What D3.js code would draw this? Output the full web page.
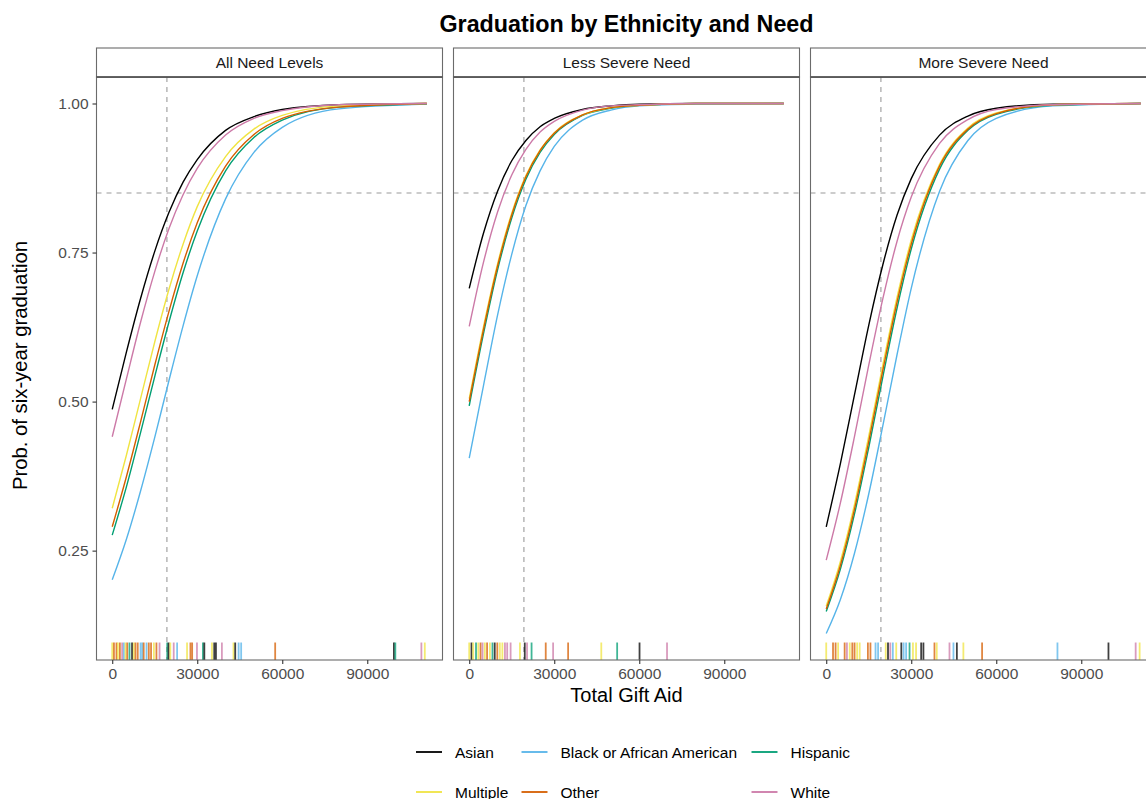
<!DOCTYPE html>
<html>
<head>
<meta charset="utf-8">
<script src="https://cdn.jsdelivr.net/npm/d3@7"></script>
<style>
  body { margin: 0; background: #ffffff; }
  svg { display: block; }
  text { font-family: "Liberation Sans", Arial, Helvetica, sans-serif; }
</style>
</head>
<body>
<svg id="chart" width="1146" height="799"></svg>
<script>
// ---- Data -------------------------------------------------------------
const ethnicities = ["Asian", "Black or African American", "Hispanic", "Multiple", "Other", "White"];
const ethnicityColors = ["#000000", "#56B4E9", "#009E73", "#F0E442", "#D55E00", "#CC79A7"];
const needLevels = ["All Need Levels", "Less Severe Need", "More Severe Need"];

// Total gift aid values at which the predicted probabilities are given
const aidGrid = [0, 5000, 10000, 15000, 20000, 25000, 30000, 40000, 50000, 60000, 80000, 111000];

// Predicted probability of six-year graduation, rows in ethnicity order
const probAllNeed = [
  [0.487, 0.583, 0.673, 0.752, 0.817, 0.868, 0.906, 0.955, 0.978, 0.990, 0.998, 1.000],
  [0.201, 0.269, 0.350, 0.440, 0.535, 0.627, 0.711, 0.840, 0.918, 0.960, 0.991, 0.999],
  [0.276, 0.357, 0.448, 0.542, 0.633, 0.716, 0.786, 0.887, 0.943, 0.972, 0.994, 0.999],
  [0.321, 0.410, 0.505, 0.600, 0.688, 0.764, 0.827, 0.911, 0.957, 0.980, 0.996, 1.000],
  [0.290, 0.374, 0.466, 0.561, 0.651, 0.732, 0.800, 0.895, 0.948, 0.975, 0.994, 1.000],
  [0.441, 0.538, 0.633, 0.718, 0.790, 0.847, 0.891, 0.947, 0.975, 0.988, 0.998, 1.000]
];
const probLessSevere = [
  [0.690, 0.782, 0.853, 0.904, 0.938, 0.961, 0.975, 0.990, 0.996, 0.999, 1.000, 1.000],
  [0.405, 0.526, 0.645, 0.747, 0.829, 0.887, 0.928, 0.972, 0.989, 0.996, 0.999, 1.000],
  [0.493, 0.613, 0.721, 0.808, 0.873, 0.918, 0.948, 0.980, 0.992, 0.997, 1.000, 1.000],
  [0.505, 0.625, 0.731, 0.816, 0.879, 0.922, 0.951, 0.981, 0.993, 0.997, 1.000, 1.000],
  [0.500, 0.620, 0.727, 0.813, 0.877, 0.921, 0.950, 0.981, 0.993, 0.997, 1.000, 1.000],
  [0.626, 0.733, 0.818, 0.880, 0.923, 0.952, 0.970, 0.989, 0.996, 0.998, 1.000, 1.000]
];
const probMoreSevere = [
  [0.290, 0.396, 0.512, 0.628, 0.730, 0.813, 0.874, 0.947, 0.979, 0.992, 0.999, 1.000],
  [0.111, 0.168, 0.246, 0.345, 0.460, 0.579, 0.690, 0.853, 0.938, 0.975, 0.996, 1.000],
  [0.148, 0.219, 0.312, 0.423, 0.542, 0.657, 0.756, 0.890, 0.955, 0.982, 0.997, 1.000],
  [0.157, 0.232, 0.328, 0.442, 0.562, 0.675, 0.771, 0.898, 0.959, 0.984, 0.998, 1.000],
  [0.152, 0.225, 0.320, 0.433, 0.553, 0.667, 0.764, 0.895, 0.957, 0.983, 0.998, 1.000],
  [0.234, 0.330, 0.442, 0.561, 0.673, 0.769, 0.843, 0.933, 0.973, 0.990, 0.998, 1.000]
];

// Observed students' total gift aid (rug), with ethnicity
const rugAllNeed = [
  [0, "Multiple"], [600, "Other"], [1500, "Other"], [2000, "Multiple"], [2700, "Other"],
  [3500, "White"], [4100, "Black or African American"], [4700, "Multiple"], [5300, "Other"],
  [6100, "Hispanic"], [7000, "Asian"], [7600, "Multiple"], [8200, "Other"], [9000, "Other"],
  [10000, "Black or African American"], [10600, "Black or African American"], [11100, "Other"],
  [12100, "Black or African American"], [12900, "Other"], [13700, "Other"], [14700, "Multiple"],
  [15600, "Other"], [16700, "White"], [19400, "Hispanic"], [19900, "Asian"], [20500, "Multiple"],
  [21700, "White"], [22900, "Black or African American"], [26400, "Multiple"], [27600, "Other"],
  [28200, "Other"], [29900, "White"], [32000, "Hispanic"], [32500, "Asian"], [35200, "Multiple"],
  [36000, "Asian"], [36600, "Asian"], [38700, "White"], [42800, "Multiple"], [43400, "Asian"],
  [44600, "Black or African American"], [45500, "Black or African American"], [57500, "Other"],
  [99400, "Asian"], [99900, "Hispanic"], [109100, "White"], [110300, "Multiple"]
];
const rugLessSevere = [
  [0, "Multiple"], [800, "Asian"], [1400, "Multiple"], [2400, "Hispanic"], [3200, "Multiple"],
  [4000, "Other"], [4700, "White"], [5500, "Multiple"], [6300, "Other"], [7300, "Multiple"],
  [8200, "Hispanic"], [9000, "Asian"], [9900, "Other"], [10800, "Multiple"], [11700, "Multiple"],
  [12600, "White"], [13400, "White"], [14600, "White"], [17900, "Multiple"], [19600, "Asian"],
  [20400, "White"], [22000, "Hispanic"], [27000, "Other"], [29600, "White"], [34900, "Other"],
  [46600, "Multiple"], [52200, "Hispanic"], [60100, "Asian"], [69800, "White"]
];
const rugMoreSevere = [
  [0, "Multiple"], [2400, "Other"], [3300, "Other"], [4200, "Multiple"], [6500, "Other"],
  [7300, "White"], [8300, "Multiple"], [9200, "Other"], [10000, "Other"], [10900, "Multiple"],
  [11800, "Multiple"], [14700, "Other"], [15600, "Other"], [17400, "Black or African American"],
  [18300, "Black or African American"], [21000, "Multiple"], [21800, "Asian"], [22600, "White"],
  [23500, "Black or African American"], [24700, "Multiple"], [26500, "Asian"],
  [27300, "Black or African American"], [28200, "Black or African American"], [29400, "Hispanic"],
  [30600, "Multiple"], [31700, "Multiple"], [33500, "Asian"], [34300, "Asian"], [38200, "Other"],
  [39000, "Multiple"], [43500, "White"], [44900, "Black or African American"], [46100, "Asian"],
  [48400, "Multiple"], [55000, "Other"], [81600, "Black or African American"], [99600, "Asian"],
  [109200, "White"], [110600, "Multiple"]
];

const xTickValues = [0, 30000, 60000, 90000];
const yTickValues = [0.25, 0.50, 0.75, 1.00];
const referenceAid = 19300;     // vertical dashed reference
const referenceProb = 0.85;     // horizontal dashed reference

// ---- Layout -----------------------------------------------------------
const svg = d3.select("#chart");
const stripTop = 48, panelTop = 77, panelBottom = 660;
const panelWidth = 346, panelGap = 11, firstPanelLeft = 96.5;
const panels = [
  { name: needLevels[0], probs: probAllNeed, rug: rugAllNeed },
  { name: needLevels[1], probs: probLessSevere, rug: rugLessSevere },
  { name: needLevels[2], probs: probMoreSevere, rug: rugMoreSevere }
];

const color = d3.scaleOrdinal().domain(ethnicities).range(ethnicityColors);

// data range with 5% padding on each side
const aidExtent = d3.extent(aidGrid);
const aidPad = 0.05 * (aidExtent[1] - aidExtent[0]);
const probMin = d3.min([probAllNeed, probLessSevere, probMoreSevere].flat(2));
const probPad = 0.05 * (1 - probMin);
const y = d3.scaleLinear().domain([probMin - probPad, 1 + probPad]).range([panelBottom, panelTop]);

const line = d3.line().curve(d3.curveMonotoneX);
const tickFont = "15.5px";

panels.forEach((p, i) => {
  const left = firstPanelLeft + i * (panelWidth + panelGap);
  const x = d3.scaleLinear()
    .domain([aidExtent[0] - aidPad, aidExtent[1] + aidPad])
    .range([left, left + panelWidth]);
  const g = svg.append("g");

  g.append("rect").attr("x", left).attr("y", panelTop).attr("width", panelWidth)
    .attr("height", panelBottom - panelTop).attr("fill", "#ffffff");

  // reference lines
  g.append("line").attr("x1", left).attr("x2", left + panelWidth)
    .attr("y1", y(referenceProb)).attr("y2", y(referenceProb))
    .attr("stroke", "#9a9a9a").attr("stroke-width", 1.1).attr("stroke-dasharray", "5,5");
  g.append("line").attr("x1", x(referenceAid)).attr("x2", x(referenceAid))
    .attr("y1", panelTop).attr("y2", panelBottom)
    .attr("stroke", "#9a9a9a").attr("stroke-width", 1.1).attr("stroke-dasharray", "5,5");

  // fitted curves
  ethnicities.forEach((eth, k) => {
    const pts = aidGrid.map((a, j) => [x(a), y(p.probs[k][j])]);
    g.append("path").attr("d", line(pts)).attr("fill", "none")
      .attr("stroke", color(eth)).attr("stroke-width", 1.4);
  });

  // rug
  const rugLen = 0.03 * (panelBottom - panelTop);
  g.selectAll(".rug").data(p.rug).enter().append("line")
    .attr("x1", d => x(d[0])).attr("x2", d => x(d[0]))
    .attr("y1", panelBottom).attr("y2", panelBottom - rugLen)
    .attr("stroke", d => color(d[1])).attr("stroke-width", 1.8).attr("stroke-opacity", 0.75);

  // panel border
  g.append("rect").attr("x", left).attr("y", panelTop).attr("width", panelWidth)
    .attr("height", panelBottom - panelTop).attr("fill", "none").attr("stroke", "#6b6b6b").attr("stroke-width", 1.1);

  // strip
  g.append("rect").attr("x", left).attr("y", stripTop).attr("width", panelWidth)
    .attr("height", panelTop - stripTop).attr("fill", "#ffffff").attr("stroke", "#6b6b6b").attr("stroke-width", 1.1);
  g.append("line").attr("x1", left).attr("x2", left + panelWidth).attr("y1", panelTop).attr("y2", panelTop)
    .attr("stroke", "#4d4d4d").attr("stroke-width", 1.6);
  g.append("text").attr("x", left + panelWidth / 2).attr("y", (stripTop + panelTop) / 2 + 5.5)
    .attr("text-anchor", "middle").attr("font-size", tickFont).attr("fill", "#1a1a1a").text(p.name);

  // x axis
  const xa = g.append("g").attr("transform", `translate(0,${panelBottom})`)
    .call(d3.axisBottom(x).tickValues(xTickValues).tickFormat(d3.format("d")).tickSize(4).tickPadding(4));
  xa.select(".domain").remove();
  xa.selectAll(".tick line").attr("stroke", "#333333").attr("stroke-width", 1.1);
  xa.selectAll(".tick text").attr("fill", "#4d4d4d").attr("font-size", tickFont)
    .attr("font-family", "'Liberation Sans', Arial, sans-serif");

  if (i === 0) {
    const ya = g.append("g").attr("transform", `translate(${left},0)`)
      .call(d3.axisLeft(y).tickValues(yTickValues).tickFormat(d3.format(".2f")).tickSize(4).tickPadding(4));
    ya.select(".domain").remove();
    ya.selectAll(".tick line").attr("stroke", "#333333").attr("stroke-width", 1.1);
    ya.selectAll(".tick text").attr("fill", "#4d4d4d").attr("font-size", tickFont)
      .attr("font-family", "'Liberation Sans', Arial, sans-serif");
  }
});

// titles
const plotCenter = firstPanelLeft + (3 * panelWidth + 2 * panelGap) / 2;
svg.append("text").attr("x", plotCenter).attr("y", 32).attr("text-anchor", "middle")
  .attr("font-size", "23.3px").attr("font-weight", "bold").attr("fill", "#000").text("Graduation by Ethnicity and Need");
svg.append("text").attr("x", plotCenter).attr("y", 702).attr("text-anchor", "middle")
  .attr("font-size", "20px").attr("fill", "#000").text("Total Gift Aid");
svg.append("text").attr("transform", `translate(27,${(panelTop + panelBottom) / 2 - 3}) rotate(-90)`)
  .attr("text-anchor", "middle").attr("font-size", "20.3px").attr("fill", "#000").text("Prob. of six-year graduation");

// legend: two rows, three columns
const legendCols = [416, 521.5, 751.5];
const legendRows = [752, 792];
ethnicities.forEach((eth, k) => {
  const col = k % 3, row = Math.floor(k / 3);
  const lx = legendCols[col], ly = legendRows[row];
  const lg = svg.append("g");
  lg.append("line").attr("x1", lx).attr("x2", lx + 26).attr("y1", ly).attr("y2", ly)
    .attr("stroke", color(eth)).attr("stroke-width", 1.8);
  lg.append("text").attr("x", lx + 39).attr("y", ly + 5.5).attr("font-size", tickFont)
    .attr("fill", "#000").text(eth);
});
</script>
</body>
</html>
